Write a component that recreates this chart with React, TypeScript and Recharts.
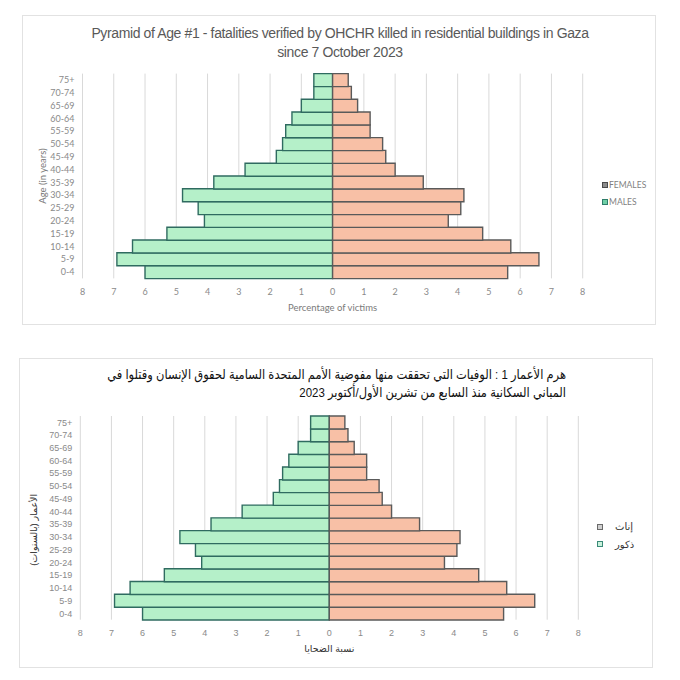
import React from 'react';
import { BarChart, Bar, XAxis, YAxis, CartesianGrid, Legend } from 'recharts';

const ageGroups = ['0-4', '5-9', '10-14', '15-19', '20-24', '25-29', '30-34', '35-39', '40-44', '45-49', '50-54', '55-59', '60-64', '65-69', '70-74', '75+'];
const malesPct = [6.0, 6.9, 6.4, 5.3, 4.1, 4.3, 4.8, 3.8, 2.8, 1.8, 1.6, 1.5, 1.3, 1.0, 0.6, 0.6];
const femalesPct = [5.6, 6.6, 5.7, 4.8, 3.7, 4.1, 4.2, 2.9, 2.0, 1.7, 1.6, 1.2, 1.2, 0.8, 0.6, 0.5];
const percentTicks = [-8, -7, -6, -5, -4, -3, -2, -1, 0, 1, 2, 3, 4, 5, 6, 7, 8];

const titleEn1 = 'Pyramid of Age #1 - fatalities verified by OHCHR killed in residential buildings in Gaza';
const titleEn2 = 'since 7 October 2023';
const titleAr1 = 'هرم الأعمار 1 : الوفيات التي تحققت منها مفوضية الأمم المتحدة السامية لحقوق الإنسان وقتلوا في';
const titleAr2 = 'المباني السكانية منذ السابع من تشرين الأول/أكتوبر 2023';

const labelsEn = { males: 'MALES', females: 'FEMALES', yTitle: 'Age (in years)', xTitle: 'Percentage of victims' };
const labelsAr = { males: 'ذكور', females: 'إناث', yTitle: 'الأعمار (بالسنوات)', xTitle: 'نسبة الضحايا' };

const rows = ageGroups.map((age, i) => ({ age, males: -malesPct[i], females: femalesPct[i] }));

const MALE_FILL = '#b5f0c9';
const MALE_STROKE = '#2f6b60';
const FEMALE_FILL = '#f8c0a6';
const FEMALE_STROKE = '#5a5a5a';

type Cfg = {
  top: number;
  height: number;
  margin: { top: number; right: number; bottom: number; left: number };
  labels: typeof labelsEn;
  font: string;
  tickSize: number;
  tickColor: string;
  titleColor: string;
  yTitleX: number;
  yTitleDy: number;
  xTitleDy: number;
  legendTop: number;
  legendPad: number;
  legendGap: number;
  legendFont: string;
  legendSize: number;
  legendColor: string;
  rtl: boolean;
  markers: Record<string, { fill: string; stroke: string }>;
};

function Pyramid({ cfg }: { cfg: Cfg }) {
  const renderLegend = (props: any) => {
    const payload = (props.payload || []).slice();
    const order = ['females', 'males'];
    payload.sort((a: any, b: any) => order.indexOf(a.dataKey) - order.indexOf(b.dataKey));
    return (
      <div style={{ width: 70, paddingLeft: cfg.legendPad, boxSizing: 'border-box' }}>
        {payload.map((p: any) => {
          const m = cfg.markers[p.dataKey];
          return (
            <div key={p.dataKey} style={{ display: 'flex', alignItems: 'center', height: 17.6, fontFamily: cfg.legendFont, fontSize: cfg.legendSize, color: cfg.legendColor, whiteSpace: 'nowrap' }}>
              <span style={{ display: 'inline-block', width: 4, height: 4, background: m.fill, border: `1px solid ${m.stroke}`, marginRight: cfg.legendGap }} />
              <span>{p.value}</span>
            </div>
          );
        })}
      </div>
    );
  };

  const yTitle = (props: any) => {
    const vb = props.viewBox || {};
    const cx = cfg.yTitleX;
    const cy = vb.y + vb.height / 2 + cfg.yTitleDy;
    return (
      <text x={cx} y={cy} transform={`rotate(-90 ${cx} ${cy})`} textAnchor="middle" dominantBaseline="central"
        direction={cfg.rtl ? 'rtl' : 'ltr'} fontFamily={cfg.font} fontSize={cfg.tickSize + 0.5} fill={cfg.titleColor}>
        {cfg.labels.yTitle}
      </text>
    );
  };

  const xTitle = (props: any) => {
    const vb = props.viewBox || {};
    const cx = vb.x + vb.width / 2;
    const cy = vb.y + cfg.xTitleDy;
    return (
      <text x={cx} y={cy} textAnchor="middle" dominantBaseline="central" direction={cfg.rtl ? 'rtl' : 'ltr'}
        fontFamily={cfg.font} fontSize={cfg.tickSize + 0.5} fill={cfg.titleColor}>
        {cfg.labels.xTitle}
      </text>
    );
  };

  return (
    <div style={{ position: 'absolute', left: 0, top: cfg.top, width: 680, height: cfg.height }}>
      <BarChart width={680} height={cfg.height} data={rows} layout="vertical" stackOffset="sign"
        barCategoryGap={0} margin={cfg.margin}>
        <CartesianGrid horizontal={false} vertical={true} stroke="#d9d9d9" strokeWidth={1} />
        <XAxis type="number" domain={[-8, 8]} ticks={percentTicks} allowDataOverflow
          tickFormatter={(v: number) => String(Math.abs(v))} axisLine={false} tickLine={false}
          tickMargin={4} height={40} interval={0}
          tick={{ fontSize: cfg.tickSize, fill: cfg.tickColor, fontFamily: cfg.font }}
          label={{ content: xTitle }} />
        <YAxis type="category" dataKey="age" reversed width={60} axisLine={false} tickLine={false} interval={0}
          tick={{ fontSize: cfg.tickSize, fill: cfg.tickColor, fontFamily: cfg.font }}
          label={{ content: yTitle }} />
        <Legend layout="vertical" align="right" verticalAlign="top" wrapperStyle={{ top: cfg.legendTop }}
          content={renderLegend} />
        <Bar dataKey="males" name={cfg.labels.males} stackId="pop" fill={MALE_FILL} stroke={MALE_STROKE}
          strokeWidth={1.4} isAnimationActive={false} />
        <Bar dataKey="females" name={cfg.labels.females} stackId="pop" fill={FEMALE_FILL} stroke={FEMALE_STROKE}
          strokeWidth={1.4} isAnimationActive={false} />
      </BarChart>
    </div>
  );
}

const topCfg: Cfg = {
  top: 0,
  height: 330,
  margin: { top: 73.6, right: 27.3, bottom: 11.6, left: 22.5 },
  labels: labelsEn,
  font: 'Lato, sans-serif',
  tickSize: 9,
  tickColor: '#8a8a8a',
  titleColor: '#7a7a7a',
  yTitleX: 42,
  yTitleDy: 0,
  xTitleDy: 29,
  legendTop: 176,
  legendPad: 19.3,
  legendGap: 1,
  legendFont: 'Lato, sans-serif',
  legendSize: 8.5,
  legendColor: '#7f7f7f',
  rtl: false,
  markers: {
    females: { fill: '#8c8c8c', stroke: '#4a4a4a' },
    males: { fill: '#6fcfa6', stroke: '#2f7d6a' },
  },
};

const bottomCfg: Cfg = {
  top: 340,
  height: 340,
  margin: { top: 76, right: 31.7, bottom: 20.3, left: 20.3 },
  labels: labelsAr,
  font: "'Liberation Sans', 'DejaVu Sans', sans-serif",
  tickSize: 9,
  tickColor: '#8a8a8a',
  titleColor: '#333333',
  yTitleX: 33.5,
  yTitleDy: 12,
  xTitleDy: 28.5,
  legendTop: 178,
  legendPad: 18.7,
  legendGap: 12,
  legendFont: "'Liberation Sans', 'DejaVu Sans', sans-serif",
  legendSize: 10,
  legendColor: '#333333',
  rtl: true,
  markers: {
    females: { fill: '#d0d0d0', stroke: '#6a6a6a' },
    males: { fill: '#c9f2dc', stroke: '#3a8a78' },
  },
};

export default function App() {
  return (
    <div style={{ position: 'absolute', left: 0, top: 0, width: 680, height: 680, background: '#ffffff', overflow: 'hidden' }}>
      <div style={{ position: 'absolute', left: 22, top: 15, width: 634, height: 310, border: '1px solid #e2e2e2', boxSizing: 'border-box' }} />
      <div style={{ position: 'absolute', left: 19, top: 358, width: 634, height: 310, border: '1px solid #e2e2e2', boxSizing: 'border-box' }} />
      <div style={{ position: 'absolute', left: 0, top: 24, width: 680, textAlign: 'center', fontFamily: "'Liberation Sans', sans-serif", fontSize: 14, letterSpacing: -0.38, color: '#595959', lineHeight: '19px', whiteSpace: 'nowrap' }}>
        <div>{titleEn1}</div>
        <div>{titleEn2}</div>
      </div>
      <div dir="rtl" style={{ position: 'absolute', right: 114, top: 366, width: 600, textAlign: 'right', fontFamily: "'Liberation Sans', 'DejaVu Sans', sans-serif", fontSize: 13.5, color: '#111111', lineHeight: '18px', whiteSpace: 'nowrap', transform: 'scaleX(0.85)', transformOrigin: 'right center' }}>
        <div>{titleAr1}</div>
        <div>{titleAr2}</div>
      </div>
      <Pyramid cfg={topCfg} />
      <Pyramid cfg={bottomCfg} />
    </div>
  );
}
